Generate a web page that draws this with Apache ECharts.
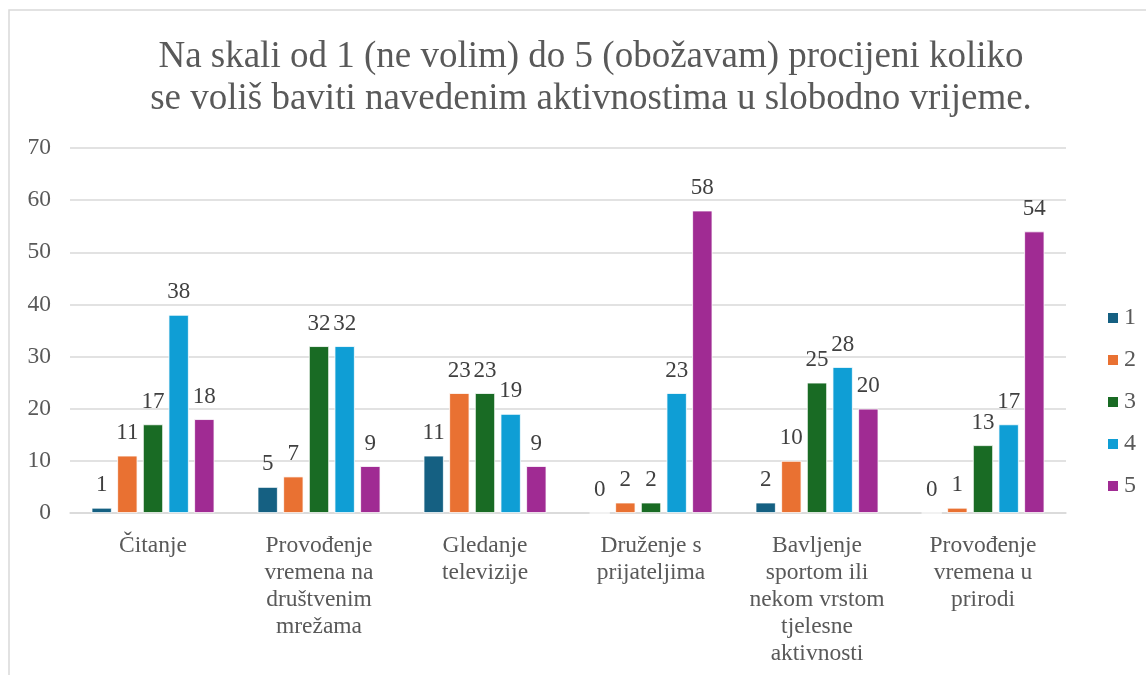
<!DOCTYPE html>
<html>
<head>
<meta charset="utf-8">
<script src="https://cdn.jsdelivr.net/npm/echarts@6/dist/echarts.min.js"></script>
<style>
  html, body { margin: 0; padding: 0; background: #fff; }
  #main { width: 1146px; height: 675px; }
</style>
</head>
<body>
<div id="main"></div>
<script>
// podaci
var categories = [
  'Čitanje',
  'Provođenje\nvremena na\ndruštvenim\nmrežama',
  'Gledanje\ntelevizije',
  'Druženje s\nprijateljima',
  'Bavljenje\nsportom ili\nnekom vrstom\ntjelesne\naktivnosti',
  'Provođenje\nvremena u\nprirodi'
]
var seriesNames = ['1', '2', '3', '4', '5']
var ocjena1 = [1, 5, 11, 0, 2, 0]
var ocjena2 = [11, 7, 23, 2, 10, 1]
var ocjena3 = [17, 32, 23, 2, 25, 13]
var ocjena4 = [38, 32, 19, 23, 28, 17]
var ocjena5 = [18, 9, 9, 58, 20, 54]
var yTicks = [0, 10, 20, 30, 40, 50, 60, 70]

var colors = ['#156082', '#E97132', '#196B24', '#0F9ED5', '#A02B93']
var serifFont = 'Liberation Serif'

var chartDom = document.getElementById('main')
var myChart = echarts.init(chartDom)
var allData = [ocjena1, ocjena2, ocjena3, ocjena4, ocjena5]

var option = {
  animation: false,
  color: colors,
  textStyle: { fontFamily: serifFont },
  title: {
    text: 'Na skali od 1 (ne volim) do 5 (obožavam) procijeni koliko\nse voliš baviti navedenim aktivnostima u slobodno vrijeme.',
    left: 586,
    top: 31,
    textAlign: 'center',
    textStyle: {
      fontFamily: serifFont,
      fontSize: 37,
      fontWeight: 'normal',
      color: '#595959',
      lineHeight: 42
    }
  },
  graphic: [
    {
      type: 'rect',
      shape: { x: 9, y: 10, width: 1200, height: 700 },
      style: { fill: 'none', stroke: '#d9d9d9', lineWidth: 1.5 },
      silent: true
    }
  ],
  legend: {
    orient: 'vertical',
    left: 1101,
    top: 301,
    itemWidth: 12,
    itemHeight: 12,
    itemGap: 18,
    icon: 'rect',
    textStyle: {
      fontFamily: serifFont,
      fontSize: 24,
      color: '#595959',
      lineHeight: 24
    },
    data: seriesNames
  },
  grid: {
    left: 70,
    right: 80,
    top: 148,
    bottom: 162
  },
  xAxis: {
    type: 'category',
    data: categories,
    axisTick: { show: false },
    axisLine: { lineStyle: { color: '#d9d9d9', width: 1.5 } },
    axisLabel: {
      interval: 0,
      margin: 19,
      fontFamily: serifFont,
      fontSize: 23.5,
      lineHeight: 27,
      color: '#595959'
    }
  },
  yAxis: {
    type: 'value',
    min: yTicks[0],
    max: yTicks[yTicks.length - 1],
    interval: 10,
    axisLine: { show: false },
    axisTick: { show: false },
    splitLine: { lineStyle: { color: '#d9d9d9', width: 1.5 } },
    axisLabel: {
      margin: 19,
      fontFamily: serifFont,
      fontSize: 23.5,
      color: '#595959'
    }
  },
  series: seriesNames.map(function (name, i) {
    return {
      name: name,
      type: 'bar',
      barCategoryGap: '26%',
      barGap: '27%',
      itemStyle: { color: colors[i], borderColor: '#ffffff', borderWidth: 0.8 },
      label: {
        show: true,
        position: 'top',
        distance: 11,
        fontFamily: serifFont,
        fontSize: 23,
        color: '#404040'
      },
      data: allData[i]
    }
  })
}

option && myChart.setOption(option)
</script>
</body>
</html>
